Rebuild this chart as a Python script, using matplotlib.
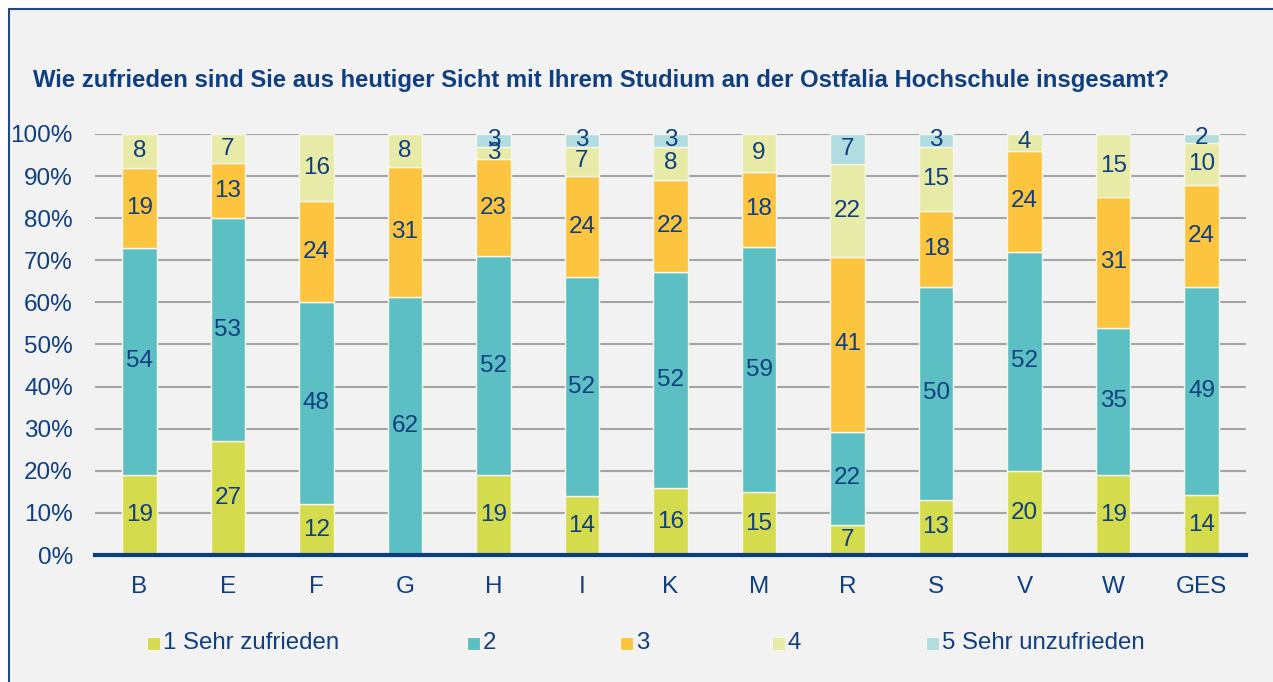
import matplotlib.pyplot as plt
import numpy as np
from matplotlib.patches import Rectangle

plt.rcParams['font.family'] = ['Liberation Sans', 'DejaVu Sans']

categories = ['B', 'E', 'F', 'G', 'H', 'I', 'K', 'M', 'R', 'S', 'V', 'W', 'GES']
series_names = ['1 Sehr zufrieden', '2', '3', '4', '5 Sehr unzufrieden']
s1 = [19, 27, 12, 0, 19, 14, 16, 15, 7, 13, 20, 19, 14]
s2 = [54, 53, 48, 62, 52, 52, 52, 59, 22, 50, 52, 35, 49]
s3 = [19, 13, 24, 31, 23, 24, 22, 18, 41, 18, 24, 31, 24]
s4 = [8, 7, 16, 8, 3, 7, 8, 9, 22, 15, 4, 15, 10]
s5 = [0, 0, 0, 0, 3, 3, 3, 0, 7, 3, 0, 0, 2]
colors = ['#d4db4c', '#5cbfc4', '#fdc440', '#e8eaa8', '#b1dde1']

title = 'Wie zufrieden sind Sie aus heutiger Sicht mit Ihrem Studium an der Ostfalia Hochschule insgesamt?'
dark = '#0f3f7f'

data = np.array([s1, s2, s3, s4, s5], dtype=float)
shares = data / data.sum(axis=0) * 100  # stack to 100 %

fig = plt.figure(figsize=(12.73, 6.82), dpi=100, facecolor='white')
# chart frame
fig.add_artist(Rectangle((9 / 1273, -0.1), 1.2, 1 - 9 / 682 + 0.1, transform=fig.transFigure,
                         facecolor='#f2f2f2', edgecolor='#23477e', linewidth=1.5, zorder=-10))

ax = fig.add_axes([95 / 1273, 1 - 555 / 682, (1246 - 95) / 1273, (555 - 134) / 682])
ax.set_facecolor('none')

x = np.arange(len(categories))
bottom = np.zeros(len(categories))
for i in range(5):
    ax.bar(x, shares[i], 0.39, bottom=bottom, color=colors[i], edgecolor='#f7f7ea', linewidth=1, zorder=3)
    for j in range(len(categories)):
        if data[i, j] > 0:
            ax.text(x[j], bottom[j] + shares[i, j] / 2, '%d' % data[i, j], ha='center', va='center',
                    fontsize=17.5, color=dark, zorder=4)
    bottom += shares[i]

ax.set_xlim(-0.5, len(categories) - 0.5)
ax.set_ylim(0, 100)
ax.set_yticks(np.arange(0, 101, 10))
ax.set_yticklabels(['%d%%' % v for v in range(0, 101, 10)])
ax.set_xticks(x)
ax.set_xticklabels(categories)
ax.tick_params(axis='both', length=0, labelsize=17.5, labelcolor=dark)
ax.tick_params(axis='y', pad=16)
ax.tick_params(axis='x', pad=15)
ax.yaxis.grid(True, color='#a5a5a5', linewidth=1.5, zorder=0)
ax.set_axisbelow(True)
for side in ['top', 'right', 'left']:
    ax.spines[side].set_visible(False)
ax.spines['bottom'].set_color('#0e3f7d')
ax.spines['bottom'].set_linewidth(3)
ax.spines['bottom'].set_zorder(5)

fig.text(33 / 1273, 1 - 80 / 682, title, fontsize=17.2, fontweight='bold', color=dark,
         ha='left', va='center')

# legend
leg_x = [147, 467, 620, 772, 926]
leg_y = 1 - 643 / 682
for i, name in enumerate(series_names):
    fig.add_artist(Rectangle((leg_x[i] / 1273, leg_y - 6.5 / 682), 13 / 1273, 13 / 682,
                             transform=fig.transFigure, facecolor=colors[i],
                             edgecolor='#f7f7ea', linewidth=0.8))
    fig.text((leg_x[i] + 16) / 1273, leg_y, name, fontsize=17.3, color=dark, ha='left', va='center')

fig.savefig('out.png', dpi=100)
